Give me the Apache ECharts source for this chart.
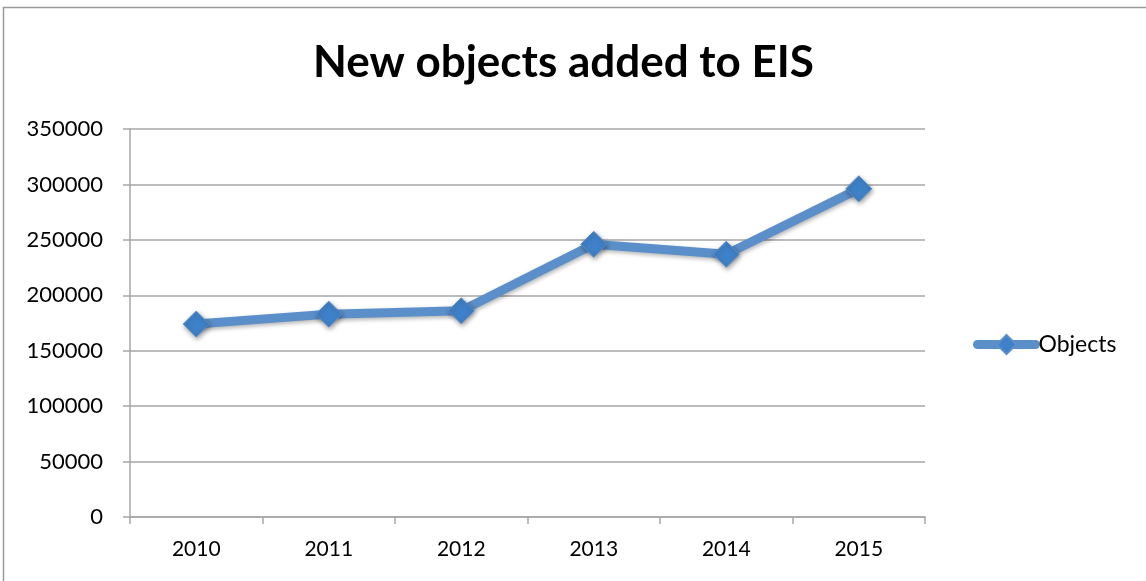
<!DOCTYPE html>
<html>
<head>
<meta charset="utf-8">
<script src="https://cdn.jsdelivr.net/npm/echarts@6/dist/echarts.min.js"></script>
<style>
  html, body { margin: 0; padding: 0; background: #fff; }
  #chart { width: 1146px; height: 581px; }
</style>
</head>
<body>
<div id="chart"></div>
<script>
// Yearly counts of new objects
const years = ['2010', '2011', '2012', '2013', '2014', '2015'];
const objects = [174000, 183000, 186000, 246000, 237000, 296000];
const seriesName = 'Objects';
const titleText = 'New objects added to EIS';

const lineColor = '#5b8fc9';
const markerColor = '#3f81c8';
const gridColor = '#a6a6a6';
const font = 'Lato, "Open Sans", sans-serif';

const chart = echarts.init(document.getElementById('chart'), null, { renderer: 'canvas' });

chart.setOption({
  backgroundColor: '#fff',
  animation: false,
  graphic: [{
    type: 'rect',
    shape: { x: 3.5, y: 7.5, width: 1160, height: 600 },
    style: { fill: 'none', stroke: '#9a9a9a', lineWidth: 1.5 },
    silent: true
  }],
  title: {
    text: titleText,
    left: 308,
    top: 36,
    textStyle: { fontFamily: font, fontWeight: 'bold', fontSize: 44, color: '#000' }
  },
  legend: {
    data: [seriesName],
    left: 968,
    top: 328,
    itemWidth: 58,
    itemHeight: 24,
    itemGap: 0,
    lineStyle: { width: 9, cap: 'round' },
    textStyle: { fontFamily: font, fontSize: 23, color: '#000', padding: [0, 0, 0, -2] }
  },
  grid: { left: 130, right: 221, top: 129, bottom: 64, containLabel: false },
  xAxis: {
    type: 'category',
    data: years,
    boundaryGap: true,
    axisLine: { lineStyle: { color: gridColor, width: 1.5 } },
    axisTick: { show: true, length: 7, lineStyle: { color: gridColor, width: 1.5 } },
    axisLabel: { fontFamily: font, fontSize: 21, color: '#000', margin: 22 }
  },
  yAxis: {
    type: 'value',
    min: 0,
    max: 350000,
    interval: 50000,
    axisLine: { show: true, lineStyle: { color: gridColor, width: 1.5 } },
    axisTick: { show: true, length: 7, lineStyle: { color: gridColor, width: 1.5 } },
    splitLine: { lineStyle: { color: gridColor, width: 1.5 } },
    axisLabel: {
      fontFamily: font, fontSize: 22, color: '#000', margin: 27,
      formatter: v => String(v)
    }
  },
  series: [{
    name: seriesName,
    type: 'line',
    data: objects,
    symbol: 'diamond',
    symbolSize: 26,
    lineStyle: {
      color: lineColor, width: 9,
      shadowColor: 'rgba(0,0,0,0.3)', shadowBlur: 4, shadowOffsetX: 1, shadowOffsetY: 2
    },
    itemStyle: {
      color: markerColor, borderColor: lineColor, borderWidth: 1,
      shadowColor: 'rgba(0,0,0,0.4)', shadowBlur: 5, shadowOffsetX: 1, shadowOffsetY: 2
    }
  }]
});
</script>
</body>
</html>
